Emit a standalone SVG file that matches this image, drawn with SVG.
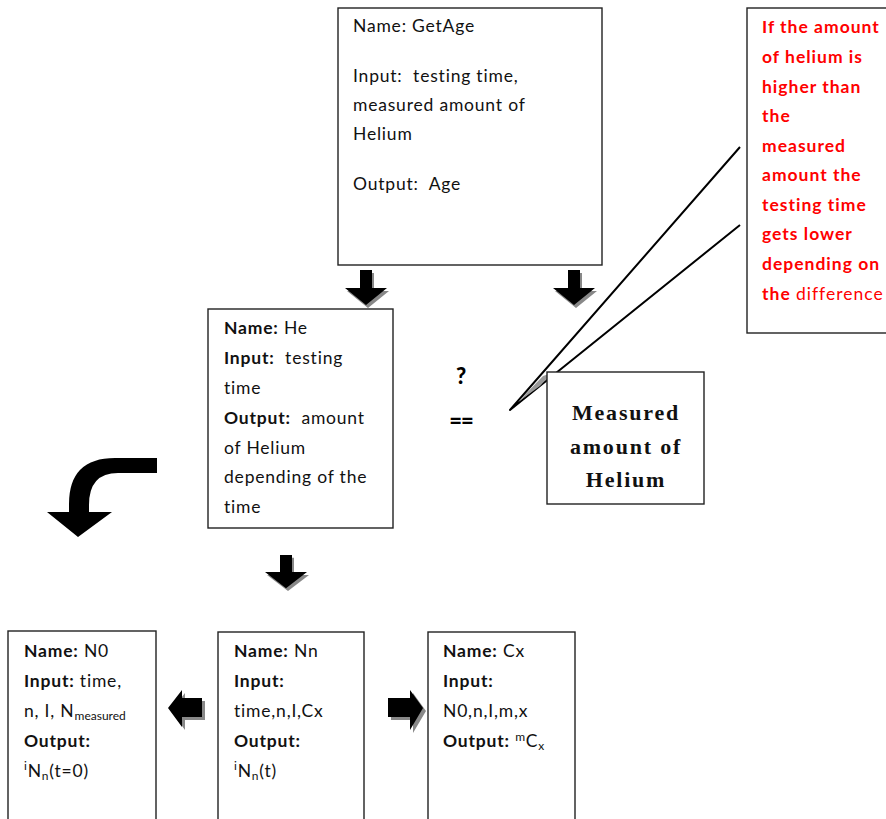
<svg xmlns="http://www.w3.org/2000/svg" width="886" height="819" viewBox="0 0 886 819">
<style>
.box{fill:#fff;stroke:#222;stroke-width:1.4}
.t{font-family:Lato,"Open Sans",sans-serif;font-size:17.5px;letter-spacing:0.8px;fill:#111;white-space:pre}
.b{font-weight:bold}
.red{font-family:Lato,"Open Sans",sans-serif;font-size:17.5px;font-weight:bold;letter-spacing:1px;fill:#ff0000;white-space:pre}
.ser{font-family:"Liberation Serif","DejaVu Serif",serif;font-size:22px;font-weight:bold;letter-spacing:1.8px;fill:#111;text-anchor:middle}
.big{font-family:Lato,"Open Sans",sans-serif;font-size:22px;font-weight:900;fill:#000;text-anchor:middle}
.arr{fill:#000}
.sh{fill:#888}
.sub{font-size:12px}
</style>
<defs>
<path id="down" d="M-6,0 L6,0 L6,18 L21,18 L0,35 L-21,18 L-6,18 Z"/>
</defs>
<g id="connectors">
<g transform="translate(366,270)"><use href="#down" class="sh" x="2" y="3"/><use href="#down" class="arr"/></g>
<g transform="translate(574,270)"><use href="#down" class="sh" x="2" y="3"/><use href="#down" class="arr"/></g>
<g transform="translate(286,555) scale(1,0.95)"><use href="#down" class="sh" x="2" y="3"/><use href="#down" class="arr"/></g>
<path class="arr" d="M157,458 L115,458 Q69,458 69,504 L69,512 L47,512 L78,537 L112,512 L89,512 L89,505 Q89,473 118,473 L157,473 Z"/>
<path class="sh" d="M171,711 L185,693 L185,701 L205,701 L205,720 L185,720 L185,730 Z"/>
<path class="arr" d="M168,708 L182,690 L182,698 L202,698 L202,717 L182,717 L182,727 Z"/>
<path class="sh" d="M426,711 L413,693 L413,701 L391,701 L391,720 L413,720 L413,733 Z"/>
<path class="arr" d="M423,708 L410,690 L410,698 L388,698 L388,717 L410,717 L410,730 Z"/>
</g>
<g id="getage">
<rect class="box" x="338" y="8" width="264" height="257"/>
<text class="t" x="353" y="32">Name: GetAge</text>
<text class="t" x="353" y="82">Input:  testing time,</text>
<text class="t" x="353" y="111">measured amount of</text>
<text class="t" x="353" y="140">Helium</text>
<text class="t" x="353" y="190">Output:  Age</text>
</g>
<g id="callout">
<rect class="box" x="747" y="8" width="200" height="325"/>
<text class="red" x="762" y="33">If the amount</text>
<text class="red" x="762" y="63">of helium is</text>
<text class="red" x="762" y="93">higher than</text>
<text class="red" x="762" y="122">the</text>
<text class="red" x="762" y="152">measured</text>
<text class="red" x="762" y="181">amount the</text>
<text class="red" x="762" y="211">testing time</text>
<text class="red" x="762" y="240">gets lower</text>
<text class="red" x="762" y="270">depending on</text>
<text class="red" x="762" y="300">the <tspan font-weight="normal">difference</tspan></text>
<path d="M740,147 L510,410 L740,225" fill="none" stroke="#000" stroke-width="2" stroke-linejoin="round"/>
<polygon points="518,402 543,376 552,373 540,386" fill="#999"/>
</g>
<g id="he">
<rect class="box" x="208" y="309" width="185" height="219"/>
<text class="t" x="224" y="334"><tspan class="b">Name:</tspan> He</text>
<text class="t" x="224" y="364"><tspan class="b">Input:</tspan>  testing</text>
<text class="t" x="224" y="394">time</text>
<text class="t" x="224" y="424"><tspan class="b">Output:</tspan>  amount</text>
<text class="t" x="224" y="454">of Helium</text>
<text class="t" x="224" y="483">depending of the</text>
<text class="t" x="224" y="513">time</text>
</g>
<g id="compare">
<text class="big" x="461" y="384">?</text>
<text class="big" x="461" y="429" letter-spacing="-1">==</text>
</g>
<g id="measured">
<rect class="box" x="547" y="372" width="157" height="132"/>
<text class="ser" x="626" y="420">Measured</text>
<text class="ser" x="626" y="454">amount of</text>
<text class="ser" x="626" y="487">Helium</text>
</g>
<g id="n0">
<rect class="box" x="8" y="631" width="148" height="200"/>
<text class="t" x="24" y="657"><tspan class="b">Name:</tspan> N0</text>
<text class="t" x="24" y="687"><tspan class="b">Input:</tspan> time,</text>
<text class="t" x="24" y="717">n, I, N<tspan class="sub" dy="3" letter-spacing="0">measured</tspan></text>
<text class="t b" x="24" y="747">Output:</text>
<text class="t" x="24" y="777"><tspan class="sub" dy="-7">i</tspan><tspan dy="7">N</tspan><tspan class="sub" dy="3">n</tspan><tspan dy="-3">(t=0)</tspan></text>
</g>
<g id="nn">
<rect class="box" x="218" y="632" width="146" height="200"/>
<text class="t" x="234" y="657"><tspan class="b">Name:</tspan> Nn</text>
<text class="t b" x="234" y="687">Input:</text>
<text class="t" x="234" y="717">time,n,I,Cx</text>
<text class="t b" x="234" y="747">Output:</text>
<text class="t" x="234" y="777"><tspan class="sub" dy="-7">i</tspan><tspan dy="7">N</tspan><tspan class="sub" dy="3">n</tspan><tspan dy="-3">(t)</tspan></text>
</g>
<g id="cx">
<rect class="box" x="428" y="632" width="147" height="200"/>
<text class="t" x="443" y="657"><tspan class="b">Name:</tspan> Cx</text>
<text class="t b" x="443" y="687">Input:</text>
<text class="t" x="443" y="717">N0,n,I,m,x</text>
<text class="t" x="443" y="747"><tspan class="b">Output:</tspan> <tspan class="sub" dy="-6">m</tspan><tspan dy="6">C</tspan><tspan class="sub" dy="3">x</tspan></text>
</g>
</svg>
